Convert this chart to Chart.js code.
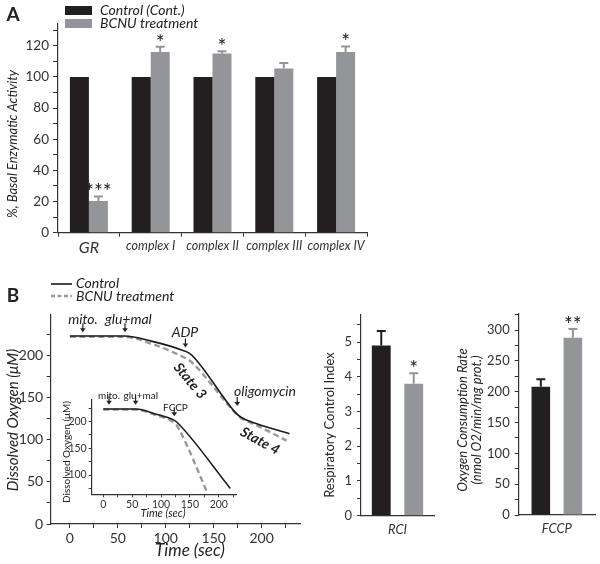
<!DOCTYPE html>
<html>
<head>
<meta charset="utf-8">
<script src="https://cdn.jsdelivr.net/npm/chart.js@4.4.1/dist/chart.umd.min.js"></script>
<style>
  html, body { margin: 0; padding: 0; background: #fff; }
  #wrap { position: relative; width: 600px; height: 564px; }
  #wrap canvas { position: absolute; left: 0; top: 0; }
</style>
</head>
<body>
<div id="wrap">
  <canvas id="chartA" width="600" height="564"></canvas>
  <canvas id="chartB" width="600" height="564"></canvas>
  <canvas id="chartInset" width="600" height="564"></canvas>
  <canvas id="chartRci" width="600" height="564"></canvas>
  <canvas id="chartFccp" width="600" height="564"></canvas>
</div>
<script>
// ---- data ----
const enzymeLabels = ['GR', 'complex I', 'complex II', 'complex III', 'complex IV'];
const enzymeControl = [100, 100, 100, 100, 100];
const enzymeBcnu = [20.3, 116, 115, 105.5, 116];
const enzymeBcnuErr = [3, 3.4, 1.5, 3.5, 3.6];
const enzymeSig = ['***', '*', '*', '', '*'];

// oxygen traces, panel B (time in sec, O2 in uM)
const controlTime = [0, 57, 85, 118, 124, 130, 167, 172, 178, 195, 229];
const controlO2 = [223, 223, 217, 206, 203, 197, 140, 133, 127, 119, 107];
const bcnuTime = [0, 57, 85, 115, 122, 128, 170, 177, 195, 226];
const bcnuO2 = [222, 222, 214, 200, 196, 191, 135, 127, 117, 99];

// inset traces (FCCP)
const insetControlTime = [0, 57, 90, 123, 129, 220];
const insetControlO2 = [223, 223, 214, 202, 197, 75];
const insetBcnuTime = [0, 57, 90, 126, 131, 179];
const insetBcnuO2 = [222, 222, 212, 194, 186, 70];

const rciLabels = ['RCI'];
const rciControl = [4.9], rciControlErr = [0.42];
const rciBcnu = [3.8], rciBcnuErr = [0.3], rciSig = ['*'];

const fccpLabels = ['FCCP'];
const fccpControl = [208], fccpControlErr = [12];
const fccpBcnu = [287.5], fccpBcnuErr = [14], fccpSig = ['**'];

// ---- helpers ----
const W = 600, H = 564;
const FONT = 'Lato, "Open Sans", sans-serif';
const BLACK = '#231f20', GRAY = '#939598', AXIS = '#333';
Chart.defaults.font.family = FONT;
Chart.defaults.color = '#333';

function pad(l, t, r, b, yW, xH) {
  return { padding: { left: l - yW, top: t, right: W - r, bottom: H - b - xH } };
}
function pts(xs, ys) { return xs.map((x, i) => ({ x: x, y: ys[i] })); }

function txt(ctx, s, x, y, font, opt) {
  opt = opt || {};
  ctx.save();
  ctx.translate(x, y);
  if (opt.rot) ctx.rotate(opt.rot * Math.PI / 180);
  ctx.font = font;
  ctx.fillStyle = opt.color || '#222';
  ctx.textAlign = opt.align || 'center';
  ctx.textBaseline = 'middle';
  ctx.fillText(s, 0, 0);
  ctx.restore();
}
function arrow(ctx, x, tip) {
  ctx.save();
  ctx.strokeStyle = '#222'; ctx.fillStyle = '#222'; ctx.lineWidth = 1.2;
  ctx.beginPath(); ctx.moveTo(x, tip - 9); ctx.lineTo(x, tip - 3); ctx.stroke();
  ctx.beginPath(); ctx.moveTo(x - 2.8, tip - 4); ctx.lineTo(x + 2.8, tip - 4); ctx.lineTo(x, tip); ctx.closePath(); ctx.fill();
  ctx.restore();
}

const errorBars = {
  id: 'errorBars',
  afterDatasetsDraw(chart) {
    const ctx = chart.ctx, y = chart.scales.y;
    chart.data.datasets.forEach((ds, di) => {
      if (!ds.errors) return;
      chart.getDatasetMeta(di).data.forEach((bar, i) => {
        const top = y.getPixelForValue(ds.data[i] + ds.errors[i]);
        ctx.save();
        ctx.strokeStyle = ds.backgroundColor; ctx.lineWidth = 2;
        ctx.beginPath();
        ctx.moveTo(bar.x, bar.y); ctx.lineTo(bar.x, top);
        ctx.moveTo(bar.x - 4.5, top); ctx.lineTo(bar.x + 4.5, top);
        ctx.stroke();
        ctx.restore();
        if (ds.stars && ds.stars[i]) {
          ctx.save();
          ctx.font = '21px ' + FONT; ctx.fillStyle = '#222';
          ctx.textAlign = 'center'; ctx.textBaseline = 'alphabetic';
          ctx.fillText(ds.stars[i], bar.x, top + 3);
          ctx.restore();
        }
      });
    });
  }
};

function numAxis(min, max, step, every, fit, size, tl, tp) {
  return {
    min: min, max: max, afterFit: fit,
    border: { color: AXIS, width: 1.2 },
    grid: { drawOnChartArea: false, tickLength: tl, color: AXIS, tickWidth: 1 },
    ticks: {
      stepSize: step, includeBounds: false, autoSkip: false, padding: tp,
      maxRotation: 0, minRotation: 0,
      font: { size: size }, color: '#333',
      callback: v => (Math.abs(v / every - Math.round(v / every)) < 1e-6 ? v : '')
    }
  };
}
function catAxis(h, size, showTicks) {
  return {
    afterFit: s => { s.height = h; },
    border: { color: AXIS, width: 1.2 },
    grid: { drawOnChartArea: false, tickLength: 4, color: showTicks ? AXIS : 'rgba(0,0,0,0)' },
    ticks: {
      padding: 2, color: '#333', maxRotation: 0, minRotation: 0,
      font: typeof size === 'function' ? size : { size: size, style: 'italic' }
    }
  };
}

// ---- panel A ----
new Chart(document.getElementById('chartA'), {
  type: 'bar',
  data: {
    labels: enzymeLabels,
    datasets: [
      { label: 'Control (Cont.)', data: enzymeControl, backgroundColor: BLACK },
      { label: 'BCNU treatment', data: enzymeBcnu, backgroundColor: GRAY, errors: enzymeBcnuErr, stars: enzymeSig }
    ]
  },
  options: {
    responsive: false, animation: false,
    layout: pad(58, 24, 367, 232.7, 58, 30),
    categoryPercentage: 0.615, barPercentage: 1,
    plugins: { legend: { display: false }, tooltip: { enabled: false } },
    scales: {
      x: catAxis(30, c => ({ size: c.index === 0 ? 16 : 12.5, style: 'italic' }), true),
      y: numAxis(0, 134, 10, 20, s => { s.width = 58; }, 13.5, 5, 4)
    }
  },
  plugins: [errorBars, {
    id: 'decorA',
    afterDraw(chart) {
      const ctx = chart.ctx;
      txt(ctx, 'A', 13, 15, 'bold 19px ' + FONT);
      ctx.fillStyle = BLACK; ctx.fillRect(65, 6, 27, 9);
      ctx.fillStyle = GRAY; ctx.fillRect(65, 19, 27, 9);
      txt(ctx, chart.data.datasets[0].label, 100, 10.5, 'italic 14px ' + FONT, { align: 'left' });
      txt(ctx, chart.data.datasets[1].label, 100, 23.5, 'italic 14px ' + FONT, { align: 'left' });
      txt(ctx, '%, Basal Enzymatic Activity', 13, 144, 'italic 13px ' + FONT, { rot: -90 });
    }
  }]
});

// ---- panel B main trace ----
new Chart(document.getElementById('chartB'), {
  type: 'scatter',
  data: {
    datasets: [
      { label: 'Control', data: pts(controlTime, controlO2), showLine: true, borderColor: '#1a1a1a',
        borderWidth: 1.6, pointRadius: 0, cubicInterpolationMode: 'monotone' },
      { label: 'BCNU treatment', data: pts(bcnuTime, bcnuO2), showLine: true, borderColor: '#9a9a9a',
        borderWidth: 2.4, borderDash: [6, 3.5], pointRadius: 0, cubicInterpolationMode: 'monotone' }
    ]
  },
  options: {
    responsive: false, animation: false,
    layout: pad(50.7, 315, 300, 524, 50.7, 38),
    plugins: { legend: { display: false }, tooltip: { enabled: false } },
    scales: {
      x: numAxis(-20, 240, 25, 50, s => { s.height = 38; }, 14, 4, 2),
      y: numAxis(0, 248, 25, 50, s => { s.width = 50.7; }, 14, 4, 3.5)
    }
  },
  plugins: [{
    id: 'decorB',
    afterDraw(chart) {
      const ctx = chart.ctx, x = chart.scales.x, y = chart.scales.y;
      txt(ctx, 'B', 13, 296, 'bold 19px ' + FONT);
      ctx.save();
      ctx.strokeStyle = '#1a1a1a'; ctx.lineWidth = 1.6;
      ctx.beginPath(); ctx.moveTo(51, 284); ctx.lineTo(72, 284); ctx.stroke();
      ctx.strokeStyle = '#9a9a9a'; ctx.lineWidth = 2.4; ctx.setLineDash([4, 2.5]);
      ctx.beginPath(); ctx.moveTo(51, 296); ctx.lineTo(72, 296); ctx.stroke();
      ctx.restore();
      txt(ctx, chart.data.datasets[0].label, 76, 283.5, 'italic 14px ' + FONT, { align: 'left' });
      txt(ctx, chart.data.datasets[1].label, 76, 296, 'italic 14px ' + FONT, { align: 'left' });
      txt(ctx, 'Dissolved Oxygen (\u03bcM)', 13, 420, 'italic 15px ' + FONT, { rot: -90 });
      txt(ctx, 'Time (sec)', 190, 551, 'italic 17px ' + FONT);
      // event markers
      const marks = [['mito.', 13.5, 227.5, 13.7, 243], ['glu+mal', 57.5, 227.5, 61, 243],
                     ['ADP', 120.5, 209.5, 120, 227], ['oligomycin', 174.5, 140, 203.5, 157]];
      marks.forEach(m => {
        arrow(ctx, x.getPixelForValue(m[1]), y.getPixelForValue(m[2]));
        txt(ctx, m[0], x.getPixelForValue(m[3]), y.getPixelForValue(m[4]), 'italic 14px ' + FONT);
      });
      txt(ctx, 'State 3', 190, 381, 'italic bold 14px ' + FONT, { rot: 50 });
      txt(ctx, 'State 4', 260, 441, 'italic bold 14px ' + FONT, { rot: 29 });
    }
  }]
});

// ---- panel B inset ----
new Chart(document.getElementById('chartInset'), {
  type: 'scatter',
  data: {
    datasets: [
      { label: 'Control', data: pts(insetControlTime, insetControlO2), showLine: true, borderColor: '#1a1a1a',
        borderWidth: 1.5, pointRadius: 0, cubicInterpolationMode: 'monotone' },
      { label: 'BCNU treatment', data: pts(insetBcnuTime, insetBcnuO2), showLine: true, borderColor: '#9a9a9a',
        borderWidth: 2.4, borderDash: [6, 3.5], pointRadius: 0, cubicInterpolationMode: 'monotone' }
    ]
  },
  options: {
    responsive: false, animation: false,
    layout: pad(91.7, 400, 236.7, 494.3, 34, 24),
    plugins: { legend: { display: false }, tooltip: { enabled: false } },
    scales: {
      x: numAxis(-20, 231, 25, 50, s => { s.height = 24; }, 10.5, 3, 1),
      y: numAxis(64, 240, 25, 50, s => { s.width = 34; }, 10.5, 3, 2)
    }
  },
  plugins: [{
    id: 'decorInset',
    afterDraw(chart) {
      const ctx = chart.ctx, x = chart.scales.x, y = chart.scales.y;
      txt(ctx, 'Dissolved Oxygen (\u03bcM)', 66.5, 452, '10px ' + FONT, { rot: -90 });
      txt(ctx, 'Time (sec)', 163, 513, 'italic 11px ' + FONT);
      const marks = [['mito.', 10, 231, 10, 248], ['glu+mal', 56, 231, 65, 248], ['FCCP', 123, 209.5, 125, 226]];
      marks.forEach(m => {
        arrow(ctx, x.getPixelForValue(m[1]), y.getPixelForValue(m[2]));
        txt(ctx, m[0], x.getPixelForValue(m[3]), y.getPixelForValue(m[4]), '10px ' + FONT);
      });
    }
  }]
});

// ---- RCI ----
new Chart(document.getElementById('chartRci'), {
  type: 'bar',
  data: {
    labels: rciLabels,
    datasets: [
      { label: 'Control', data: rciControl, backgroundColor: BLACK, errors: rciControlErr },
      { label: 'BCNU treatment', data: rciBcnu, backgroundColor: GRAY, errors: rciBcnuErr, stars: rciSig }
    ]
  },
  options: {
    responsive: false, animation: false,
    layout: pad(361, 314.3, 434, 515.7, 42, 22),
    categoryPercentage: 0.89, barPercentage: 0.58,
    plugins: { legend: { display: false }, tooltip: { enabled: false } },
    scales: {
      x: catAxis(22, 13, false),
      y: numAxis(0, 5.8, 0.5, 1, s => { s.width = 42; }, 13, 4, 5)
    }
  },
  plugins: [errorBars, {
    id: 'decorRci',
    afterDraw(chart) {
      txt(chart.ctx, 'Respiratory Control Index', 330, 425, '13px ' + FONT, { rot: -90 });
    }
  }]
});

// ---- FCCP ----
new Chart(document.getElementById('chartFccp'), {
  type: 'bar',
  data: {
    labels: fccpLabels,
    datasets: [
      { label: 'Control', data: fccpControl, backgroundColor: BLACK, errors: fccpControlErr },
      { label: 'BCNU treatment', data: fccpBcnu, backgroundColor: GRAY, errors: fccpBcnuErr, stars: fccpSig }
    ]
  },
  options: {
    responsive: false, animation: false,
    layout: pad(518.7, 314, 595, 515, 60, 22),
    categoryPercentage: 0.84, barPercentage: 0.58,
    plugins: { legend: { display: false }, tooltip: { enabled: false } },
    scales: {
      x: catAxis(22, 13, false),
      y: numAxis(0, 326, 25, 50, s => { s.width = 60; }, 13, 4, 5)
    }
  },
  plugins: [errorBars, {
    id: 'decorFccp',
    afterDraw(chart) {
      txt(chart.ctx, 'Oxygen Consumption Rate', 462.5, 420, 'italic 13px ' + FONT, { rot: -90 });
      txt(chart.ctx, '(nmol O2/min/mg prot.)', 476.5, 420, 'italic 13px ' + FONT, { rot: -90 });
    }
  }]
});
</script>
</body>
</html>
